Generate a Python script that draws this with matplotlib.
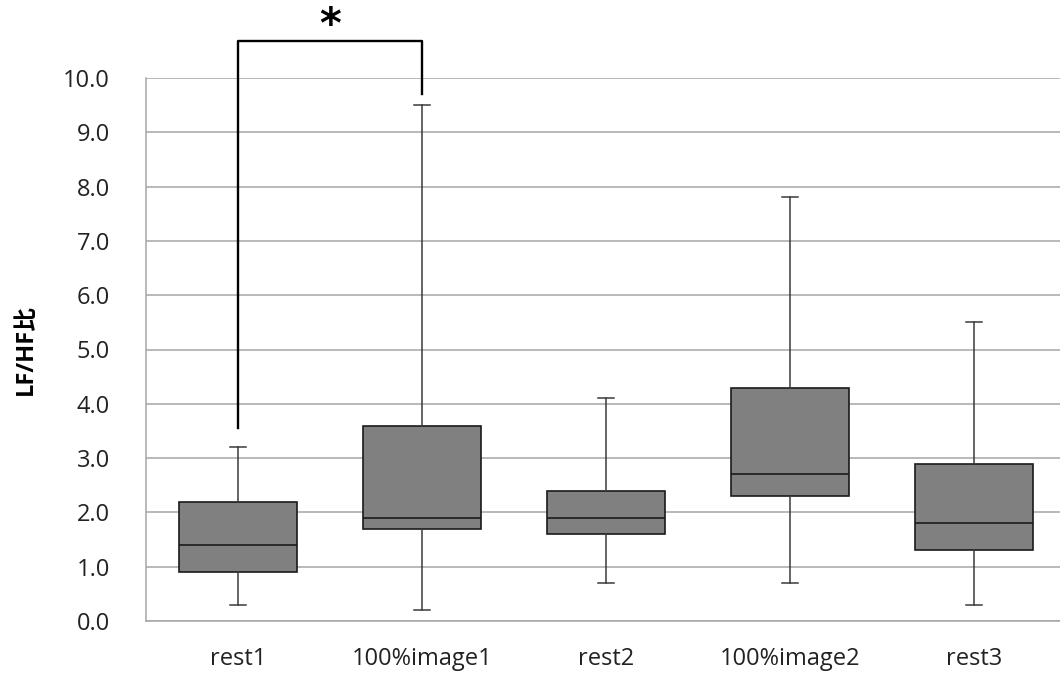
import matplotlib
matplotlib.use('Agg')
import matplotlib.pyplot as plt

# ==========================================
# data
# ==========================================
labels = ['rest1', '100%image1', 'rest2', '100%image2', 'rest3']
whisker_lo = [0.3, 0.2, 0.7, 0.7, 0.3]
q1 = [0.9, 1.7, 1.6, 2.3, 1.3]
median = [1.4, 1.9, 1.9, 2.7, 1.8]
q3 = [2.2, 3.6, 2.4, 4.3, 2.9]
whisker_hi = [3.2, 9.5, 4.1, 7.8, 5.5]

# significance bracket: rest1 vs 100%image1
sig_pair = (1, 2)
sig_left_y = 3.55
sig_top_y = 10.68
sig_right_y = 9.7
sig_star_y = 10.95

plt.rcParams['font.family'] = ['Open Sans', 'Noto Sans CJK JP', 'DejaVu Sans']

fig = plt.figure(figsize=(10.6, 6.84), dpi=100)
ax = fig.add_axes([146 / 1060, 63 / 684, 914 / 1060, 543 / 684])

stats = []
for i, lab in enumerate(labels):
    stats.append({
        'label': lab,
        'whislo': whisker_lo[i],
        'q1': q1[i],
        'med': median[i],
        'q3': q3[i],
        'whishi': whisker_hi[i],
        'fliers': [],
    })

pos = list(range(1, len(labels) + 1))
ax.bxp(stats, positions=pos, widths=0.636, patch_artist=True,
       boxprops=dict(facecolor='#808080', edgecolor='#1a1a1a', linewidth=1.2),
       medianprops=dict(color='#1a1a1a', linewidth=1.2),
       whiskerprops=dict(color='#3a3a3a', linewidth=1.1),
       capprops=dict(color='#3a3a3a', linewidth=1.1),
       capwidths=0.087, zorder=3)

ax.set_xlim(0.5, 0.5 + 914 / 184)
ax.set_ylim(0, 10)
ax.set_yticks([i * 1.0 for i in range(11)])
ax.set_yticklabels([f'{i:.1f}' for i in range(11)], fontsize=17, color='#222222')
ax.set_xticks(pos)
ax.set_xticklabels(labels, fontsize=17, color='#222222')
ax.tick_params(axis='both', length=0)
ax.tick_params(axis='y', pad=26)
ax.tick_params(axis='x', pad=19)

ax.grid(axis='y', color='#a6a6a6', linewidth=1.1, zorder=0)
ax.set_axisbelow(True)
for s in ['top', 'right']:
    ax.spines[s].set_visible(False)
for s in ['left', 'bottom']:
    ax.spines[s].set_color('#a6a6a6')
    ax.spines[s].set_linewidth(1.1)

ax.set_ylabel('LF/HF比', fontsize=17, fontweight='bold', labelpad=18)

# 有意差のブラケット
a, b = sig_pair
ax.plot([a, a, b, b], [sig_left_y, sig_top_y, sig_top_y, sig_right_y],
        color='black', linewidth=1.7, clip_on=False, zorder=5)
ax.text((a + b) / 2, sig_star_y, '*', ha='center', va='center',
        fontsize=30, fontweight='bold', clip_on=False, family='DejaVu Sans')

plt.savefig('out.png', dpi=100)
